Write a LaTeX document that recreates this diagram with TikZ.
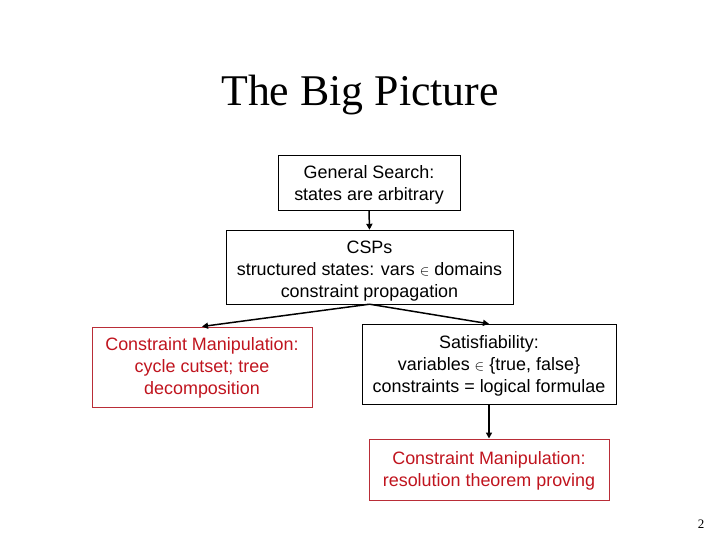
\documentclass[tikz,border=0pt]{standalone}
\usepackage{fontspec}
\setmainfont{Liberation Serif}
\setsansfont{Liberation Sans}
\usetikzlibrary{arrows.meta}
\definecolor{cmred}{RGB}{192,20,30}
\definecolor{cmframe}{RGB}{185,45,55}
\newcommand{\elem}{{\fontsize{14}{14}\selectfont$\in$}}

\begin{document}
\begin{tikzpicture}
  [x=1bp,y=-1bp,
   every node/.style={draw,align=center,inner sep=0pt,font=\sffamily\fontsize{18}{22}\selectfont},
   redbox/.style={draw=cmframe,text=cmred,line width=1pt}]
  \useasboundingbox (0,0) rectangle (720,540);
  \node[draw=none,font=\rmfamily\fontsize{44}{44}\selectfont] (title) at (360,95) {The Big Picture};
  \node[minimum width=182bp,minimum height=55bp] (gs) at (369,182.5) {\rule{0pt}{18bp}General Search:\\states are arbitrary};
  \node[minimum width=287bp,minimum height=74bp] (csp) at (369.5,267) {\rule{0pt}{21bp}CSPs\\structured states: vars \elem{} domains\\constraint propagation};
  \node[redbox,minimum width=220bp,minimum height=80bp] (cm1) at (202,367) {\rule{0pt}{15bp}Constraint Manipulation:\\cycle cutset; tree\\decomposition};
  \node[minimum width=254bp,minimum height=80bp] (sat) at (489,364) {\rule{0pt}{16bp}Satisfiability:\\variables \elem{} \{true, false\}\\constraints = logical formulae};
  \node[redbox,minimum width=240bp,minimum height=61bp] (cm2) at (489,469.5) {\rule{0pt}{15bp}Constraint Manipulation:\\resolution theorem proving};
  \node[draw=none,font=\rmfamily\fontsize{13}{13}\selectfont] (page) at (701,524) {2};
 \foreach \from/\to in {gs/csp,csp/cm1,csp/sat,sat/cm2}
    \draw[line width=1.5pt,-{Triangle[length=6bp,width=6bp]}] (\from.south) -- (\to.north);
\end{tikzpicture}
\end{document}
